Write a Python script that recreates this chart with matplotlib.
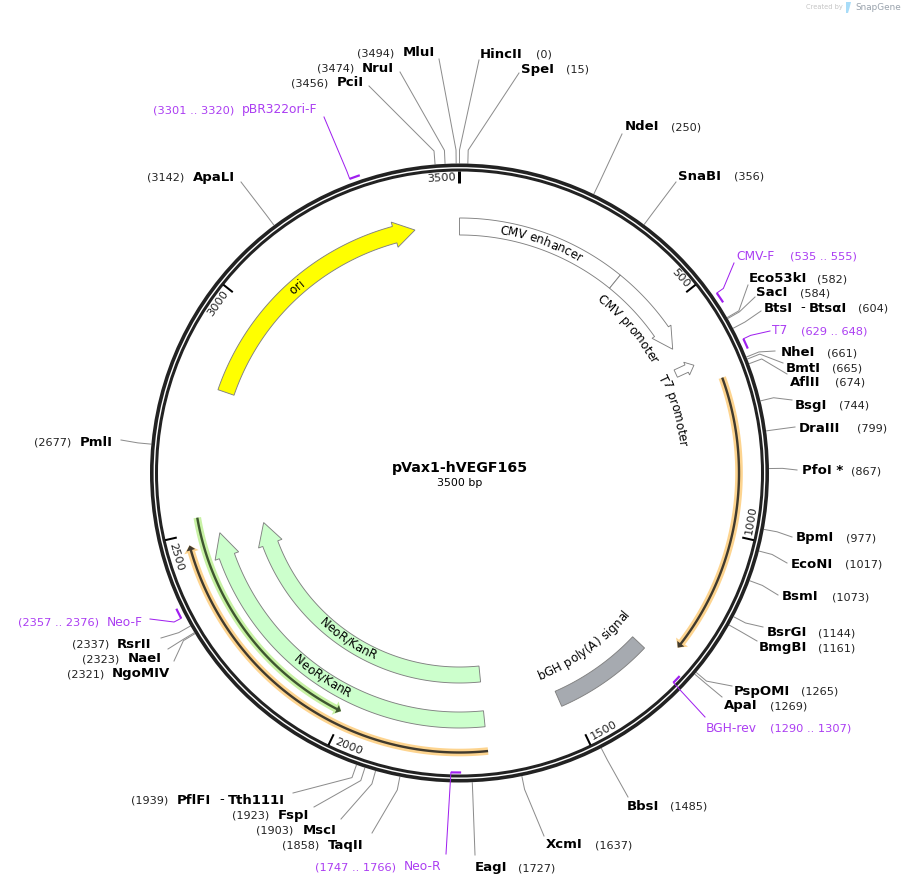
import numpy as np
import matplotlib
matplotlib.use("Agg")
import matplotlib.pyplot as plt
from matplotlib.patches import Circle, Polygon

# plasmid
TITLE = "pVax1-hVEGF165"
TOTAL_BP = 3500

# restriction sites
SITE_NAMES = ["HincII", "SpeI", "NdeI", "SnaBI", "Eco53kI", "SacI", "BtsI - BtsαI", "NheI", "BmtI",
              "AflII", "BsgI", "DraIII", "PfoI *", "BpmI", "EcoNI", "BsmI", "BsrGI", "BmgBI",
              "PspOMI", "ApaI", "BbsI", "XcmI", "EagI", "TaqII", "MscI", "FspI", "PflFI - Tth111I",
              "NgoMIV", "NaeI", "RsrII", "PmlI", "ApaLI", "PciI", "NruI", "MluI"]
SITE_BP = [0, 15, 250, 356, 582, 584, 604, 661, 665, 674, 744, 799, 867, 977, 1017, 1073, 1144, 1161,
           1265, 1269, 1485, 1637, 1727, 1858, 1903, 1923, 1939, 2321, 2323, 2337, 2677, 3142, 3456,
           3474, 3494]

# primers
PRIMER_NAMES = ["CMV-F", "T7", "BGH-rev", "Neo-R", "Neo-F", "pBR322ori-F"]
PRIMER_START = [535, 629, 1290, 1747, 2357, 3301]
PRIMER_END = [555, 648, 1307, 1766, 2376, 3320]
PRIMER_REVERSE = [False, False, True, True, False, False]

# features, bp runs from tail to arrow tip
FEATURE_NAMES = ["CMV enhancer", "CMV promoter", "ori", "NeoR/KanR", "NeoR/KanR", "bGH poly(A) signal"]
FEATURE_TAIL = [0, 380, 2810, 1694, 1694, 1520]
FEATURE_TIP = [380, 582, 3399, 2487, 2489, 1297]
THIN_TAIL = [681, 1693, 2531]
THIN_TIP = [1251, 2479, 2007]
T7_PROMOTER_BP = 635

TICK_BP = [500, 1000, 1500, 2000, 2500, 3000, 3500]

# label layout, in image pixels
NAME_X = [480, 521, 625, 678, 749, 756, 764, 781, 786, 790, 795, 799, 802, 796, 791, 782, 767, 759,
          734, 724, 627, 546, 475, 328, 303, 278, 177, 112, 128, 117, 80, 193, 337, 362, 403]
NUM_X = [536, 566, 671, 734, 817, 800, 858, 827, 832, 835, 839, 857, 851, 846, 845, 832, 818, 818,
         801, 770, 670, 595, 518, 282, 256, 232, 131, 67, 82, 72, 34, 147, 291, 317, 357]
LABEL_Y = [53, 68, 126, 175, 278, 292, 307, 352, 367, 381, 404, 427, 470, 537, 563, 596, 632, 647,
           690, 705, 805, 844, 867, 844, 829, 814, 799, 673, 658, 643, 441, 176, 82, 67, 52]
END_X = [479, 519, 622, 676, 748, 755, 761, 775, 783, 787, 792, 795, 797, 792, 787, 778, 763, 757,
         732, 722, 628, 544, 475, 372, 341, 314, 293, 174, 168, 161, 121, 241, 369, 400, 439]
END_Y = [60, 73, 134, 182, 285, 297, 311, 351, 363, 374, 400, 427, 470, 537, 563, 595, 627, 641,
         686, 697, 797, 836, 855, 833, 819, 807, 793, 661, 649, 638, 440, 182, 86, 72, 59]
SECOND_NAME_X = {"BtsI - BtsαI": (800, 809), "PflFI - Tth111I": (219, 228)}

PRIMER_NAME_X = [736, 772, 706, 404, 107, 242]
PRIMER_NUM_X = [790, 801, 770, 315, 18, 153]
PRIMER_Y = [255, 330, 727, 866, 621, 109]
PRIMER_END_X = [734, 770, 705, 446, 150, 324]
PRIMER_END_Y = [263, 331, 717, 854, 619, 117]

CX, CY = 459.5, 473.0
GRAY_LINE = "#8c8c8c"
PURPLE_TEXT = "#ab3df2"
PURPLE_MARK = "#9f1fef"
BLACK = "#222222"


def px(width):
    return width * 0.72


def polar(bp, r):
    angle = np.asarray(bp) / TOTAL_BP * 2 * np.pi
    return CX + r * np.sin(angle), CY - r * np.cos(angle)


def arc_points(bp_from, bp_to, r):
    bp = np.linspace(bp_from, bp_to, 160)
    x, y = polar(bp, r)
    return np.column_stack([x, y])


def arrow_poly(tail, tip, r_mid, half, head_half=None, head_bp=0):
    """Outline of an arc band, with an arrow head if head_bp is not 0."""
    if head_half is None or head_bp == 0:
        outer = arc_points(tail, tip, r_mid + half)
        inner = arc_points(tip, tail, r_mid - half)
        return np.vstack([outer, inner])
    sign = 1 if tip > tail else -1
    base = tip - sign * head_bp
    outer = arc_points(tail, base, r_mid + half)
    inner = arc_points(base, tail, r_mid - half)
    head = np.array([polar(base, r_mid + head_half), polar(tip, r_mid), polar(base, r_mid - head_half)])
    return np.vstack([outer, head, inner])


def tangent_rotation(angle_deg):
    angle_deg = angle_deg % 360
    if 90 < angle_deg < 270:
        return 180 - angle_deg
    return (360 - angle_deg) % 360


def curved_text(ax, renderer, text, bp_mid, r, size):
    """One character at a time along the circle, centred on bp_mid."""
    angle_mid = bp_mid / TOTAL_BP * 360
    lower_half = 90 < angle_mid % 360 < 270
    prop = matplotlib.font_manager.FontProperties(family="DejaVu Sans", size=size)
    widths = []
    sentinel = renderer.get_text_width_height_descent("|", prop, False)[0]
    for i in range(len(text)):
        # advance taken from the prefix so kerning stays in
        w1 = renderer.get_text_width_height_descent(text[:i + 1] + "|", prop, False)[0]
        w0 = renderer.get_text_width_height_descent(text[:i] + "|", prop, False)[0]
        widths.append(w1 - w0)
    total = sum(widths)
    pos = -total / 2
    for ch, w in zip(text, widths):
        along = (pos + w / 2) / r * 180 / np.pi
        angle = angle_mid - along if lower_half else angle_mid + along
        x, y = polar(angle / 360 * TOTAL_BP, r)
        ax.text(x, y, ch, fontsize=size, color="black", ha="center", va="center",
                rotation=tangent_rotation(angle), rotation_mode="anchor")
        pos += w


fig = plt.figure(figsize=(9.03, 8.85), dpi=100)
ax = fig.add_axes([0, 0, 1, 1])
ax.set_xlim(0, 903)
ax.set_ylim(885, 0)
ax.axis("off")
renderer = fig.canvas.get_renderer()

# backbone
ax.add_patch(Circle((CX, CY), 307.7, fc="none", ec=BLACK, lw=px(3.6), zorder=3))
ax.add_patch(Circle((CX, CY), 303.0, fc="none", ec=BLACK, lw=px(3.0), zorder=3))

# ticks and their numbers
for bp in TICK_BP:
    x, y = polar([bp, bp], [302, 290])
    ax.plot(x, y, color="black", lw=px(3 if bp == 3500 else 2), solid_capstyle="butt", zorder=4)
    text = str(bp)
    offset = (10.5 + 4 if len(text) == 3 else 14.5 + 4) / 295.0 * TOTAL_BP / (2 * np.pi)
    tx, ty = polar(bp - offset, 295)
    ax.text(tx, ty, text, fontsize=8.2, ha="center", va="center", color="#222222",
            rotation=tangent_rotation((bp - offset) / TOTAL_BP * 360), rotation_mode="anchor")

# site leaders and labels
for i, name in enumerate(SITE_NAMES):
    x0, y0 = polar(SITE_BP[i], 310)
    x1, y1 = polar(SITE_BP[i], 323)
    ax.plot([x0, x1, END_X[i]], [y0, y1, END_Y[i]], color=GRAY_LINE, lw=px(1.0), zorder=2)
    base = LABEL_Y[i] + 4.5
    if name in SECOND_NAME_X:
        first, second = name.split(" - ")
        dash_x, second_x = SECOND_NAME_X[name]
        ax.text(NAME_X[i], base, first, fontsize=9.5, fontweight="bold", va="baseline")
        ax.text(dash_x, base, "-", fontsize=9.5, va="baseline")
        ax.text(second_x, base, second, fontsize=9.5, fontweight="bold", va="baseline")
    else:
        ax.text(NAME_X[i], base, name, fontsize=9.5, fontweight="bold", va="baseline")
    ax.text(NUM_X[i], base, "(%d)" % SITE_BP[i], fontsize=8.1, color="#222222", va="baseline")

# primers
for i, name in enumerate(PRIMER_NAMES):
    if PRIMER_REVERSE[i]:
        mark = arc_points(PRIMER_START[i], PRIMER_END[i], 299.5)
        x0, y0 = polar(PRIMER_END[i], 299.5)
        xs, ys = [x0, PRIMER_END_X[i]], [y0, PRIMER_END_Y[i]]
    else:
        mark = arc_points(PRIMER_START[i], PRIMER_END[i], 314)
        x0, y0 = polar(PRIMER_START[i], 314)
        x1, y1 = polar(PRIMER_START[i], 322)
        xs, ys = [x0, x1, PRIMER_END_X[i]], [y0, y1, PRIMER_END_Y[i]]
    ax.plot(mark[:, 0], mark[:, 1], color=PURPLE_MARK, lw=px(2.2), solid_capstyle="butt", zorder=4)
    ax.plot(xs, ys, color=PURPLE_MARK, lw=px(1.0), zorder=4)
    base = PRIMER_Y[i] + 4.5
    ax.text(PRIMER_NAME_X[i], base, name, fontsize=8.8, color=PURPLE_TEXT, va="baseline")
    ax.text(PRIMER_NUM_X[i], base, "(%d .. %d)" % (PRIMER_START[i], PRIMER_END[i]),
            fontsize=8.2, color=PURPLE_TEXT, va="baseline")

# feature bands
band_style = {"ec": "#808080", "lw": px(0.9), "joinstyle": "miter", "zorder": 2}
ax.add_patch(Polygon(arrow_poly(FEATURE_TAIL[0], FEATURE_TIP[0], 246.5, 8.5), fc="white", **band_style))
ax.add_patch(Polygon(arrow_poly(FEATURE_TAIL[1], FEATURE_TIP[1], 246.5, 8.5, 11.5, 47), fc="white", **band_style))
ax.add_patch(Polygon(arrow_poly(FEATURE_TAIL[2], FEATURE_TIP[2], 247, 8.5, 13, 47), fc="#ffff00", **band_style))
ax.add_patch(Polygon(arrow_poly(FEATURE_TAIL[3], FEATURE_TIP[3], 202, 8, 12.5, 61), fc="#ccffcc", **band_style))
ax.add_patch(Polygon(arrow_poly(FEATURE_TAIL[4], FEATURE_TIP[4], 247, 8, 12.5, 55), fc="#ccffcc", **band_style))
ax.add_patch(Polygon(arrow_poly(FEATURE_TAIL[5], FEATURE_TIP[5], 246.5, 8.2), fc="#a6aab0", **band_style))

# the short T7 promoter arrow comes out radial in the map
t7_angle = T7_PROMOTER_BP / TOTAL_BP * 2 * np.pi
radial = np.array([np.sin(t7_angle), -np.cos(t7_angle)])
side = np.array([radial[1], -radial[0]])
t7_origin = np.array(polar(T7_PROMOTER_BP, 238))
t7_shape = [(0, 4), (12, 4), (12, 7), (20, 0), (12, -7), (12, -4), (0, -4)]
t7_outline = [t7_origin + a * radial + b * side for a, b in t7_shape]
ax.add_patch(Polygon(t7_outline, fc="white", **band_style))

# thin ORF arrows with a soft highlight
for i, (tail, tip) in enumerate(zip(THIN_TAIL, THIN_TIP)):
    r_mid = 266 if i == 2 else 279.5
    glow = "#c8f2a4" if i == 2 else "#fdd48f"
    line = "#3e5630" if i == 2 else "#403a2e"
    ax.add_patch(Polygon(arrow_poly(tail, tip, r_mid, 3.8, 7.5, 14), fc=glow, ec="none", zorder=2))
    ax.add_patch(Polygon(arrow_poly(tail, tip, r_mid, 1.2, 4.5, 10), fc=line, ec="none", zorder=3))

# text on and beside the features
curved_text(ax, renderer, FEATURE_NAMES[0], 189, 246, 8.6)
curved_text(ax, renderer, FEATURE_NAMES[1], 481, 224, 8.6)
curved_text(ax, renderer, "T7 promoter", 716, 224.5, 8.6)
curved_text(ax, renderer, FEATURE_NAMES[2], 3100, 247, 8.6)
curved_text(ax, renderer, FEATURE_NAMES[3], 2080, 202, 8.6)
curved_text(ax, renderer, FEATURE_NAMES[4], 2080, 247, 8.6)
curved_text(ax, renderer, FEATURE_NAMES[5], 1402, 218, 8.6)

# centre
ax.text(CX, 468, TITLE, fontsize=10.2, fontweight="bold", ha="center", va="center")
ax.text(CX, 483, "%d bp" % TOTAL_BP, fontsize=7.9, ha="center", va="center")

# watermark
ax.text(806, 7.5, "Created by", fontsize=4.8, color="#c4c4c4", va="center")
ax.add_patch(Polygon([(846, 2), (851, 2), (849.5, 8), (848, 13), (846, 13)], fc="#a8dcf8", ec="none"))
ax.text(855, 7.5, "SnapGene", fontsize=6.4, color="#9aa3ad", va="center")

fig.savefig("out.png", dpi=100)
